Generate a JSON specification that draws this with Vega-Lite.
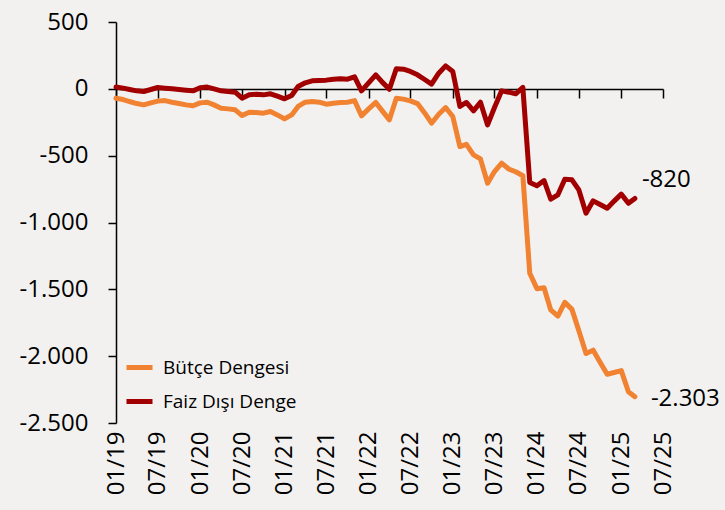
{
  "$schema": "https://vega.github.io/schema/vega-lite/v6.json",
  "width": 547,
  "height": 401,
  "autosize": {"type": "none"},
  "padding": {"left": 116, "top": 22, "right": 62, "bottom": 87},
  "background": "#f2f1ef",
  "config": {
    "view": {"stroke": null},
    "font": "Open Sans",
    "locale": {"number": {"decimal": ",", "thousands": ".", "grouping": [3], "currency": ["", ""], "minus": "-"}},
    "axisY": {"grid": false, "domainColor": "black", "domainWidth": 1.5, "tickColor": "black", "tickWidth": 1.5, "tickSize": 8, "labelFontSize": 24, "labelColor": "black", "labelPadding": 20, "title": null},
    "axisX": {"grid": false, "title": null}
  },
  "data": {"values": [
    {"date": "2019-01-01", "Bütçe Dengesi": -70, "Faiz Dışı Denge": 13},
    {"date": "2019-02-01", "Bütçe Dengesi": -80, "Faiz Dışı Denge": 5},
    {"date": "2019-03-01", "Bütçe Dengesi": -95, "Faiz Dışı Denge": -5},
    {"date": "2019-04-01", "Bütçe Dengesi": -110, "Faiz Dışı Denge": -15},
    {"date": "2019-05-01", "Bütçe Dengesi": -120, "Faiz Dışı Denge": -20},
    {"date": "2019-06-01", "Bütçe Dengesi": -105, "Faiz Dışı Denge": -5},
    {"date": "2019-07-01", "Bütçe Dengesi": -92, "Faiz Dışı Denge": 10},
    {"date": "2019-08-01", "Bütçe Dengesi": -88, "Faiz Dışı Denge": 5},
    {"date": "2019-09-01", "Bütçe Dengesi": -100, "Faiz Dışı Denge": 0},
    {"date": "2019-10-01", "Bütçe Dengesi": -110, "Faiz Dışı Denge": -5},
    {"date": "2019-11-01", "Bütçe Dengesi": -120, "Faiz Dışı Denge": -10},
    {"date": "2019-12-01", "Bütçe Dengesi": -127, "Faiz Dışı Denge": -15},
    {"date": "2020-01-01", "Bütçe Dengesi": -105, "Faiz Dışı Denge": 8},
    {"date": "2020-02-01", "Bütçe Dengesi": -100, "Faiz Dışı Denge": 13},
    {"date": "2020-03-01", "Bütçe Dengesi": -120, "Faiz Dışı Denge": 0},
    {"date": "2020-04-01", "Bütçe Dengesi": -145, "Faiz Dışı Denge": -15},
    {"date": "2020-05-01", "Bütçe Dengesi": -150, "Faiz Dışı Denge": -20},
    {"date": "2020-06-01", "Bütçe Dengesi": -157, "Faiz Dışı Denge": -25},
    {"date": "2020-07-01", "Bütçe Dengesi": -200, "Faiz Dışı Denge": -70},
    {"date": "2020-08-01", "Bütçe Dengesi": -175, "Faiz Dışı Denge": -45},
    {"date": "2020-09-01", "Bütçe Dengesi": -177, "Faiz Dışı Denge": -40},
    {"date": "2020-10-01", "Bütçe Dengesi": -182, "Faiz Dışı Denge": -45},
    {"date": "2020-11-01", "Bütçe Dengesi": -170, "Faiz Dışı Denge": -37},
    {"date": "2020-12-01", "Bütçe Dengesi": -195, "Faiz Dışı Denge": -55},
    {"date": "2021-01-01", "Bütçe Dengesi": -225, "Faiz Dışı Denge": -75},
    {"date": "2021-02-01", "Bütçe Dengesi": -195, "Faiz Dışı Denge": -50},
    {"date": "2021-03-01", "Bütçe Dengesi": -132, "Faiz Dışı Denge": 17},
    {"date": "2021-04-01", "Bütçe Dengesi": -100, "Faiz Dışı Denge": 45},
    {"date": "2021-05-01", "Bütçe Dengesi": -95, "Faiz Dışı Denge": 60},
    {"date": "2021-06-01", "Bütçe Dengesi": -100, "Faiz Dışı Denge": 63},
    {"date": "2021-07-01", "Bütçe Dengesi": -115, "Faiz Dışı Denge": 65},
    {"date": "2021-08-01", "Bütçe Dengesi": -108, "Faiz Dışı Denge": 72},
    {"date": "2021-09-01", "Bütçe Dengesi": -102, "Faiz Dışı Denge": 75},
    {"date": "2021-10-01", "Bütçe Dengesi": -100, "Faiz Dışı Denge": 72},
    {"date": "2021-11-01", "Bütçe Dengesi": -88, "Faiz Dışı Denge": 90},
    {"date": "2021-12-01", "Bütçe Dengesi": -202, "Faiz Dışı Denge": -15},
    {"date": "2022-01-01", "Bütçe Dengesi": -150, "Faiz Dışı Denge": 45},
    {"date": "2022-02-01", "Bütçe Dengesi": -102, "Faiz Dışı Denge": 105},
    {"date": "2022-03-01", "Bütçe Dengesi": -165, "Faiz Dışı Denge": 50},
    {"date": "2022-04-01", "Bütçe Dengesi": -232, "Faiz Dışı Denge": -3},
    {"date": "2022-05-01", "Bütçe Dengesi": -70, "Faiz Dışı Denge": 150},
    {"date": "2022-06-01", "Bütçe Dengesi": -77, "Faiz Dışı Denge": 147},
    {"date": "2022-07-01", "Bütçe Dengesi": -90, "Faiz Dışı Denge": 130},
    {"date": "2022-08-01", "Bütçe Dengesi": -110, "Faiz Dışı Denge": 105},
    {"date": "2022-09-01", "Bütçe Dengesi": -180, "Faiz Dışı Denge": 70},
    {"date": "2022-10-01", "Bütçe Dengesi": -257, "Faiz Dışı Denge": 35},
    {"date": "2022-11-01", "Bütçe Dengesi": -190, "Faiz Dışı Denge": 117},
    {"date": "2022-12-01", "Bütçe Dengesi": -140, "Faiz Dışı Denge": 172},
    {"date": "2023-01-01", "Bütçe Dengesi": -207, "Faiz Dışı Denge": 130},
    {"date": "2023-02-01", "Bütçe Dengesi": -432, "Faiz Dışı Denge": -132},
    {"date": "2023-03-01", "Bütçe Dengesi": -415, "Faiz Dışı Denge": -102},
    {"date": "2023-04-01", "Bütçe Dengesi": -494, "Faiz Dışı Denge": -165},
    {"date": "2023-05-01", "Bütçe Dengesi": -524, "Faiz Dışı Denge": -100},
    {"date": "2023-06-01", "Bütçe Dengesi": -706, "Faiz Dışı Denge": -270},
    {"date": "2023-07-01", "Bütçe Dengesi": -619, "Faiz Dışı Denge": -140},
    {"date": "2023-08-01", "Bütçe Dengesi": -556, "Faiz Dışı Denge": -15},
    {"date": "2023-09-01", "Bütçe Dengesi": -600, "Faiz Dışı Denge": -25},
    {"date": "2023-10-01", "Bütçe Dengesi": -620, "Faiz Dışı Denge": -37},
    {"date": "2023-11-01", "Bütçe Dengesi": -650, "Faiz Dışı Denge": 10},
    {"date": "2023-12-01", "Bütçe Dengesi": -1380, "Faiz Dışı Denge": -700},
    {"date": "2024-01-01", "Bütçe Dengesi": -1495, "Faiz Dışı Denge": -725},
    {"date": "2024-02-01", "Bütçe Dengesi": -1488, "Faiz Dışı Denge": -686},
    {"date": "2024-03-01", "Bütçe Dengesi": -1654, "Faiz Dışı Denge": -826},
    {"date": "2024-04-01", "Bütçe Dengesi": -1700, "Faiz Dışı Denge": -793},
    {"date": "2024-05-01", "Bütçe Dengesi": -1597, "Faiz Dışı Denge": -676},
    {"date": "2024-06-01", "Bütçe Dengesi": -1650, "Faiz Dışı Denge": -681},
    {"date": "2024-07-01", "Bütçe Dengesi": -1810, "Faiz Dışı Denge": -756},
    {"date": "2024-08-01", "Bütçe Dengesi": -1980, "Faiz Dışı Denge": -930},
    {"date": "2024-09-01", "Bütçe Dengesi": -1955, "Faiz Dışı Denge": -838},
    {"date": "2024-10-01", "Bütçe Dengesi": -2045, "Faiz Dışı Denge": -865},
    {"date": "2024-11-01", "Bütçe Dengesi": -2135, "Faiz Dışı Denge": -893},
    {"date": "2024-12-01", "Bütçe Dengesi": -2122, "Faiz Dışı Denge": -840},
    {"date": "2025-01-01", "Bütçe Dengesi": -2108, "Faiz Dışı Denge": -788},
    {"date": "2025-02-01", "Bütçe Dengesi": -2266, "Faiz Dışı Denge": -856},
    {"date": "2025-03-01", "Bütçe Dengesi": -2303, "Faiz Dışı Denge": -820}
  ]},
  "transform": [{"fold": ["Bütçe Dengesi", "Faiz Dışı Denge"], "as": ["series", "value"]}],
  "encoding": {
    "x": {"field": "date", "type": "temporal",
      "scale": {"type": "utc", "domain": [{"year": 2019, "month": 1, "date": 1, "utc": true}, {"year": 2025, "month": 7, "date": 1, "utc": true}]}},
    "y": {"field": "value", "type": "quantitative", "scale": {"domain": [-2500, 500], "nice": false},
      "axis": {"values": [-2500, -2000, -1500, -1000, -500, 0, 500], "grid": false, "title": null}}
  },
  "layer": [
    {
      "mark": {"type": "line", "opacity": 0},
      "encoding": {
        "x": {"field": "date", "type": "temporal",
          "axis": {"orient": "bottom", "offset": -334, "labels": false, "ticks": true, "tickSize": 9, "tickColor": "black", "tickWidth": 1.5, "domain": true, "domainColor": "black", "domainWidth": 1.5,
            "values": [
              {"year": 2019, "month": 1, "date": 1, "utc": true}, {"year": 2019, "month": 7, "date": 1, "utc": true},
              {"year": 2020, "month": 1, "date": 1, "utc": true}, {"year": 2020, "month": 7, "date": 1, "utc": true},
              {"year": 2021, "month": 1, "date": 1, "utc": true}, {"year": 2021, "month": 7, "date": 1, "utc": true},
              {"year": 2022, "month": 1, "date": 1, "utc": true}, {"year": 2022, "month": 7, "date": 1, "utc": true},
              {"year": 2023, "month": 1, "date": 1, "utc": true}, {"year": 2023, "month": 7, "date": 1, "utc": true},
              {"year": 2024, "month": 1, "date": 1, "utc": true}, {"year": 2024, "month": 7, "date": 1, "utc": true},
              {"year": 2025, "month": 1, "date": 1, "utc": true}, {"year": 2025, "month": 7, "date": 1, "utc": true}
            ]}},
        "detail": {"field": "series"}
      }
    },
    {
      "mark": {"type": "line", "strokeWidth": 5, "strokeJoin": "round", "strokeCap": "round"},
      "encoding": {
        "x": {"field": "date", "type": "temporal",
          "axis": {"orient": "bottom", "domain": false, "ticks": false, "labelAngle": -90, "labelFontSize": 24, "labelColor": "black", "labelPadding": 8, "format": "%m/%y", "labelOverlap": false,
            "values": [
              {"year": 2019, "month": 1, "date": 1, "utc": true}, {"year": 2019, "month": 7, "date": 1, "utc": true},
              {"year": 2020, "month": 1, "date": 1, "utc": true}, {"year": 2020, "month": 7, "date": 1, "utc": true},
              {"year": 2021, "month": 1, "date": 1, "utc": true}, {"year": 2021, "month": 7, "date": 1, "utc": true},
              {"year": 2022, "month": 1, "date": 1, "utc": true}, {"year": 2022, "month": 7, "date": 1, "utc": true},
              {"year": 2023, "month": 1, "date": 1, "utc": true}, {"year": 2023, "month": 7, "date": 1, "utc": true},
              {"year": 2024, "month": 1, "date": 1, "utc": true}, {"year": 2024, "month": 7, "date": 1, "utc": true},
              {"year": 2025, "month": 1, "date": 1, "utc": true}, {"year": 2025, "month": 7, "date": 1, "utc": true}
            ]}},
        "color": {"field": "series", "type": "nominal",
          "scale": {"domain": ["Bütçe Dengesi", "Faiz Dışı Denge"], "range": ["#f08232", "#a20000"]},
          "legend": {"orient": "none", "legendX": 8, "legendY": 330, "title": null, "symbolType": "stroke", "symbolStrokeWidth": 5, "symbolSize": 676, "labelFontSize": 19, "labelColor": "black", "labelOffset": 8, "rowPadding": 8, "padding": 0}}
      }
    },
    {
      "transform": [{"filter": {"and": [{"field": "series", "equal": "Faiz Dışı Denge"}, {"field": "date", "equal": {"year": 2025, "month": 3, "date": 1, "utc": true}}]}}],
      "mark": {"type": "text", "align": "left", "baseline": "middle", "dx": 7, "dy": -18, "fontSize": 24, "color": "black"},
      "encoding": {
        "x": {"field": "date", "type": "temporal", "axis": null},
        "text": {"field": "value", "type": "quantitative", "format": ",d"}
      }
    },
    {
      "transform": [{"filter": {"and": [{"field": "series", "equal": "Bütçe Dengesi"}, {"field": "date", "equal": {"year": 2025, "month": 3, "date": 1, "utc": true}}]}}],
      "mark": {"type": "text", "align": "left", "baseline": "middle", "dx": 16, "dy": 2, "fontSize": 24, "color": "black"},
      "encoding": {
        "x": {"field": "date", "type": "temporal", "axis": null},
        "text": {"field": "value", "type": "quantitative", "format": ",d"}
      }
    }
  ],
  "resolve": {"axis": {"x": "independent"}}
}
